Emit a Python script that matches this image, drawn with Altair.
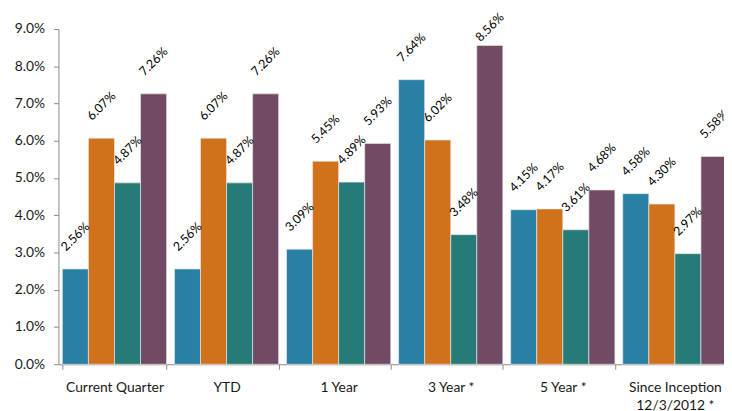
import altair as alt
import pandas as pd

categories = ["Current Quarter", "YTD", "1 Year", "3 Year *", "5 Year *", "Since Inception|12/3/2012 *"]
series = ["Series 1", "Series 2", "Series 3", "Series 4"]
s1 = [2.56, 2.56, 3.09, 7.64, 4.15, 4.58]
s2 = [6.07, 6.07, 5.45, 6.02, 4.17, 4.30]
s3 = [4.87, 4.87, 4.89, 3.48, 3.61, 2.97]
s4 = [7.26, 7.26, 5.93, 8.56, 4.68, 5.58]
colors = ["#2a7fa5", "#d0711c", "#267b76", "#714a63"]
y_ticks = [0, 0.01, 0.02, 0.03, 0.04, 0.05, 0.06, 0.07, 0.08, 0.09]

rows = []
for i, c in enumerate(categories):
    for s, vals in zip(series, [s1, s2, s3, s4]):
        rows.append({"category": c, "series": s, "value": vals[i] / 100})
df = pd.DataFrame(rows)

FONT = "Lato"

x = alt.X(
    "category:N",
    sort=categories,
    scale=alt.Scale(paddingInner=0.07, paddingOuter=0.035),
    axis=alt.Axis(
        title=None,
        labelAngle=0,
        labelExpr="split(datum.label, '|')",
        tickBand="extent",
        tickSize=5,
        tickColor="#8a8a8a",
        domainColor="#8a8a8a",
        labelFont=FONT,
        labelFontSize=14,
        labelColor="#1a1a1a",
        labelPadding=12,
        labelLineHeight=18,
    ),
)
xoff = alt.XOffset("series:N", sort=series, scale=alt.Scale(paddingInner=0, paddingOuter=0))
yscale = alt.Scale(domain=[0, 0.09], nice=False)
yaxis = alt.Axis(
    title=None,
    values=y_ticks,
    format=".1%",
    grid=False,
    tickSize=5,
    tickColor="#8a8a8a",
    domainColor="#8a8a8a",
    labelFont=FONT,
    labelFontSize=14,
    labelColor="#1a1a1a",
    labelPadding=9,
)
color = alt.Color("series:N", sort=series, scale=alt.Scale(domain=series, range=colors), legend=None)

bars = alt.Chart(df).mark_bar(stroke="#e6e6e6", strokeWidth=0.7).encode(
    x=x, xOffset=xoff, y=alt.Y("value:Q", scale=yscale, axis=yaxis), color=color
)
labels = alt.Chart(df).transform_calculate(
    label_y="min(datum.value, 0.0818)"
).mark_text(
    angle=315, align="center", baseline="middle", dx=23, dy=-23,
    fontSize=12.5, font=FONT, color="#000000"
).encode(
    x=x, xOffset=xoff, y=alt.Y("label_y:Q", scale=yscale, axis=yaxis),
    text=alt.Text("value:Q", format=".2%")
)

chart = (bars + labels).properties(
    width=680,
    height=339,
    autosize=alt.AutoSizeParams(type="none"),
    padding={"left": 51, "top": 19, "right": -7, "bottom": 45},
).configure_view(stroke=None)

chart.save("out.html", embed_options={"renderer": "svg", "actions": False})
